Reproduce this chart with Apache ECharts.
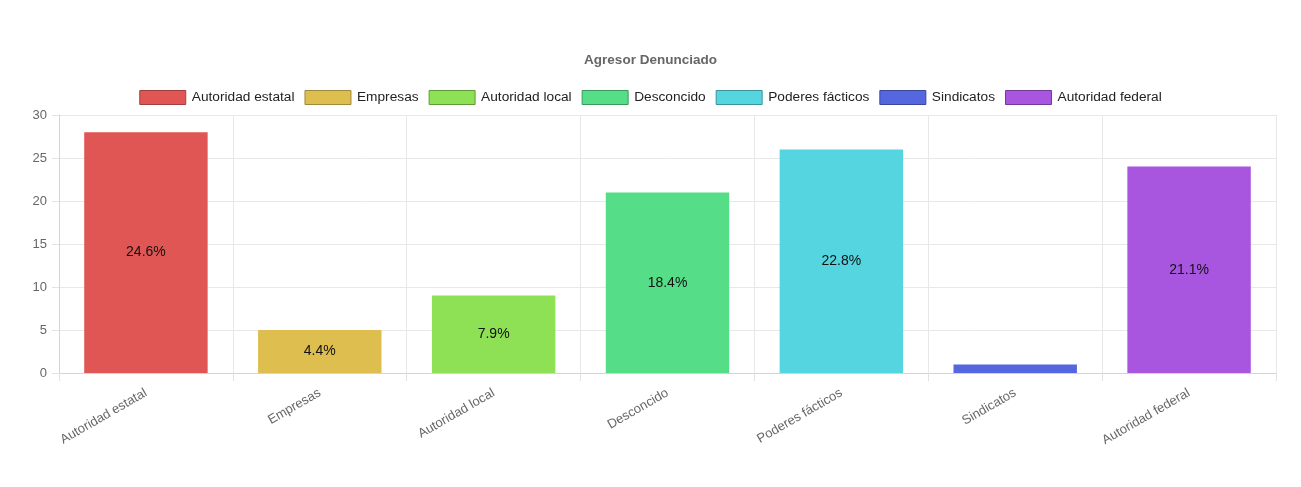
<!DOCTYPE html>
<html>
<head>
<meta charset="utf-8">
<script src="https://cdn.jsdelivr.net/npm/echarts@6/dist/echarts.min.js"></script>
<style>
  html, body { margin: 0; padding: 0; background: #fff; }
  #main { width: 1301px; height: 487px; }
</style>
</head>
<body>
<div id="main"></div>
<script>
// categorias y valores
var categorias = ['Autoridad estatal', 'Empresas', 'Autoridad local', 'Desconcido', 'Poderes fácticos', 'Sindicatos', 'Autoridad federal'];
var valores = [28, 5, 9, 21, 26, 1, 24];
var colores = ['#e05654', '#dfbe50', '#8ee055', '#55de87', '#55d5df', '#5567df', '#a855df'];
var bordes = ['#a04040', '#a08a3a', '#5e9a38', '#3a9a5e', '#3a949a', '#3a479a', '#743a9a'];

var total = 0;
for (var i = 0; i < valores.length; i++) {
    total += valores[i];
}

var myChart = echarts.init(document.getElementById('main'));

// una serie por categoria para que la leyenda tenga un color por barra
var series = [];
for (var i = 0; i < categorias.length; i++) {
    var data = [];
    for (var j = 0; j < categorias.length; j++) {
        data[j] = (i == j) ? valores[i] : null;
    }
    series.push({
        name: categorias[i],
        type: 'bar',
        stack: 'total',
        barWidth: '71%',
        data: data,
        itemStyle: {
            color: colores[i],
            borderWidth: 0
        },
        label: {
            show: true,
            position: 'inside',
            color: '#111',
            fontSize: 14,
            fontFamily: 'Liberation Sans',
            formatter: function (p) {
                if (p.value == null || p.value < 2) return '';
                return (p.value / total * 100).toFixed(1) + '%';
            }
        }
    });
}

var option = {
    animation: false,
    title: {
        text: 'Agresor Denunciado',
        left: 'center',
        top: 48,
        textStyle: {
            fontSize: 13.5,
            fontWeight: 'bold',
            color: '#666',
            fontFamily: 'Liberation Sans'
        }
    },
    legend: {
        top: 85,
        left: 'center',
        itemWidth: 46,
        itemHeight: 14,
        itemGap: 10,
        icon: 'rect',
        textStyle: {
            fontSize: 13.7,
            color: '#222',
            fontFamily: 'Liberation Sans',
            padding: [0, 0, 0, 1]
        },
        data: categorias.map(function (c, i) {
            return {
                name: c,
                itemStyle: { color: colores[i], borderColor: bordes[i], borderWidth: 1 }
            };
        })
    },
    grid: {
        left: 59,
        right: 25,
        top: 115,
        bottom: 114,
        containLabel: false
    },
    xAxis: {
        type: 'category',
        data: categorias,
        axisLine: { show: true, lineStyle: { color: '#d4d4d4' } },
        axisTick: { show: true, length: 8, lineStyle: { color: '#e2e2e2' } },
        splitLine: { show: true, lineStyle: { color: '#e8e8e8' } },
        axisLabel: {
            rotate: 30,
            color: '#666',
            fontSize: 13,
            fontFamily: 'Liberation Sans',
            margin: 19,
            interval: 0
        }
    },
    yAxis: {
        type: 'value',
        min: 0,
        max: 30,
        interval: 5,
        axisLine: { show: true, lineStyle: { color: '#d4d4d4' } },
        axisTick: { show: true, length: 7, lineStyle: { color: '#e2e2e2' } },
        splitLine: { show: true, lineStyle: { color: '#e8e8e8' } },
        axisLabel: {
            color: '#666',
            fontSize: 13,
            fontFamily: 'Liberation Sans',
            margin: 12
        }
    },
    series: series
};

myChart.setOption(option);
</script>
</body>
</html>
